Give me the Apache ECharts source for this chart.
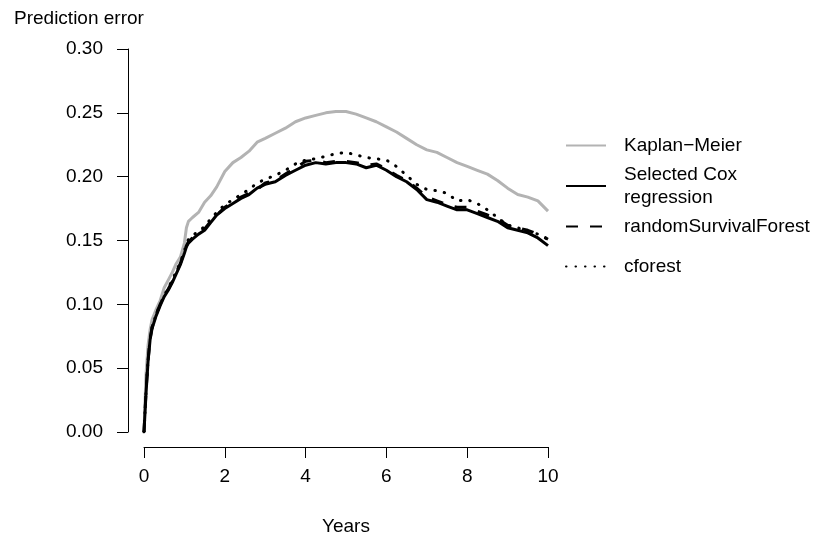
<!DOCTYPE html>
<html>
<head>
<meta charset="utf-8">
<script src="https://cdn.jsdelivr.net/npm/echarts@6/dist/echarts.min.js"></script>
<style>
  html, body { margin: 0; padding: 0; background: #ffffff; }
  #chart { width: 831px; height: 542px; }
</style>
</head>
<body>
<div id="chart"></div>
<script>
  // time points (years)
  var times = [0, 0.05, 0.1, 0.15, 0.2, 0.3, 0.4, 0.5, 0.6, 0.7, 0.8, 0.9, 1.0, 1.05, 1.1, 1.2, 1.35, 1.5, 1.65, 1.8,
    2.0, 2.2, 2.4, 2.6, 2.8, 3.0, 3.25, 3.5, 3.75, 4.0, 4.25, 4.5, 4.75, 5.0, 5.25, 5.5, 5.75, 6.0, 6.25, 6.5,
    6.75, 7.0, 7.25, 7.5, 7.75, 8.0, 8.25, 8.5, 8.75, 9.0, 9.25, 9.5, 9.75, 10.0]
  var kmErr = [0, 0.045, 0.068, 0.080, 0.088, 0.096, 0.103, 0.113, 0.119, 0.125, 0.132, 0.137, 0.148, 0.160, 0.165, 0.168, 0.172, 0.180, 0.185, 0.192,
    0.204, 0.211, 0.215, 0.220, 0.227, 0.230, 0.234, 0.238, 0.243, 0.246, 0.248, 0.250, 0.251, 0.251, 0.249, 0.246, 0.243, 0.239, 0.235, 0.230,
    0.225, 0.221, 0.219, 0.215, 0.211, 0.208, 0.205, 0.202, 0.197, 0.191, 0.186, 0.184, 0.181, 0.173]
  var coxErr = [0, 0.030, 0.055, 0.072, 0.081, 0.091, 0.099, 0.106, 0.111, 0.117, 0.124, 0.131, 0.140, 0.145, 0.148, 0.151, 0.155, 0.158, 0.164, 0.170,
    0.175, 0.179, 0.183, 0.186, 0.191, 0.194, 0.196, 0.201, 0.205, 0.209, 0.211, 0.210, 0.211, 0.211, 0.210, 0.207, 0.209, 0.205, 0.200, 0.196,
    0.190, 0.182, 0.180, 0.177, 0.174, 0.174, 0.171, 0.168, 0.165, 0.160, 0.158, 0.156, 0.152, 0.146]
  var rsfErr = [0, 0.032, 0.056, 0.073, 0.082, 0.092, 0.100, 0.107, 0.112, 0.118, 0.125, 0.132, 0.141, 0.146, 0.149, 0.152, 0.156, 0.159, 0.165, 0.170,
    0.176, 0.180, 0.184, 0.187, 0.190, 0.195, 0.197, 0.202, 0.207, 0.212, 0.213, 0.211, 0.212, 0.212, 0.211, 0.209, 0.210, 0.206, 0.201, 0.197,
    0.191, 0.184, 0.181, 0.178, 0.176, 0.176, 0.173, 0.170, 0.167, 0.162, 0.160, 0.158, 0.155, 0.151]
  var cforestErr = [0, 0.031, 0.056, 0.073, 0.082, 0.092, 0.100, 0.107, 0.113, 0.119, 0.126, 0.133, 0.142, 0.147, 0.151, 0.154, 0.157, 0.161, 0.167, 0.172,
    0.178, 0.182, 0.186, 0.190, 0.195, 0.198, 0.201, 0.205, 0.210, 0.213, 0.214, 0.216, 0.218, 0.219, 0.217, 0.215, 0.214, 0.213, 0.208, 0.201,
    0.194, 0.190, 0.189, 0.187, 0.181, 0.182, 0.179, 0.174, 0.168, 0.162, 0.160, 0.157, 0.155, 0.151]
  var xTicks = [0, 2, 4, 6, 8, 10]

  var font = '"Liberation Sans", Arial, Helvetica, sans-serif'
  var chart = echarts.init(document.getElementById('chart'), null, { renderer: 'canvas' })

  function pairs (arr) {
    return times.map(function (t, i) { return [t, arr[i]] })
  }

  function legendAt (name, top) {
    return {
      data: [name],
      orient: 'vertical',
      left: 565,
      top: top,
      padding: 0,
      itemWidth: 40,
      itemHeight: 10,
      selectedMode: false,
      itemStyle: { opacity: 0 },
      formatter: function (n) {
        return n === 'Selected Cox regression' ? 'Selected Cox\nregression' : n
      },
      textStyle: {
        color: '#000',
        fontFamily: font,
        fontSize: 19,
        lineHeight: 23,
        padding: [0, 0, 0, 13]
      }
    }
  }

  var option = {
    backgroundColor: '#ffffff',
    animation: false,
    title: {
      text: 'Prediction error',
      left: 14,
      top: 9,
      padding: 0,
      textStyle: { color: '#000', fontFamily: font, fontSize: 19, fontWeight: 'normal' }
    },
    legend: [
      legendAt('Kaplan\u2212Meier', 134),
      legendAt('Selected Cox regression', 163),
      legendAt('randomSurvivalForest', 215),
      legendAt('cforest', 255)
    ],
    grid: {
      left: 144,
      right: 283,
      top: 49,
      bottom: 110
    },
    xAxis: {
      type: 'value',
      min: 0,
      max: 10,
      interval: 2,
      offset: 15,
      name: 'Years',
      nameLocation: 'middle',
      nameGap: 70,
      nameTextStyle: { color: '#000', fontFamily: font, fontSize: 19 },
      splitLine: { show: false },
      axisLine: { onZero: false, lineStyle: { color: '#000', width: 1 } },
      axisTick: { length: 11, lineStyle: { color: '#000' } },
      axisLabel: {
        color: '#000', fontFamily: font, fontSize: 19, margin: 20,
        formatter: function (v) { return xTicks.indexOf(v) >= 0 ? String(v) : '' }
      }
    },
    yAxis: {
      type: 'value',
      min: 0,
      max: 0.3,
      interval: 0.05,
      offset: 16,
      splitLine: { show: false },
      axisLine: { show: true, onZero: false, lineStyle: { color: '#000', width: 1 } },
      axisTick: { show: true, length: 11, lineStyle: { color: '#000' } },
      axisLabel: {
        color: '#000', fontFamily: font, fontSize: 19, margin: 25,
        formatter: function (v) { return v.toFixed(2) }
      }
    },
    series: [
      {
        name: 'Kaplan\u2212Meier',
        type: 'line',
        data: pairs(kmErr),
        symbol: 'none',
        color: '#b3b3b3',
        lineStyle: { color: '#b3b3b3', width: 3 }
      },
      {
        name: 'Selected Cox regression',
        type: 'line',
        data: pairs(coxErr),
        symbol: 'none',
        color: '#000',
        lineStyle: { color: '#000', width: 3 }
      },
      {
        name: 'randomSurvivalForest',
        type: 'line',
        data: pairs(rsfErr),
        symbol: 'none',
        color: '#000',
        lineStyle: { color: '#000', width: 3, type: [12, 12] }
      },
      {
        name: 'cforest',
        type: 'line',
        data: pairs(cforestErr),
        symbol: 'none',
        color: '#000',
        lineStyle: { color: '#000', width: 3, type: [0.5, 9], cap: 'round' }
      }
    ]
  }
  chart.setOption(option)
</script>
</body>
</html>
